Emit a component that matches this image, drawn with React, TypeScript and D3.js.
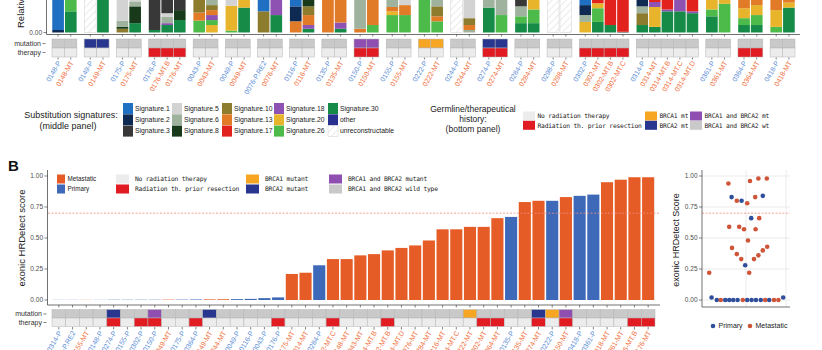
import React from 'react';
import * as d3 from 'd3';

const FONT = 'Liberation Sans, Arial, sans-serif';
const FONT_LEG = 'DejaVu Sans Mono, Liberation Mono, monospace';

// ---- panel A (bottom part visible): samples, grouped by patient
const patients = ['0148', '0149', '0175', '0176', '0043', '0049', '0076', '0116', '0135', '0150', '0155',
  '0222', '0244', '0274', '0284', '0298', '0302', '0314', '0361', '0364', '0418'];
const patientMutation = ['wt', 'BRCA2', 'wt', 'wt', 'wt', 'wt', 'wt', 'wt', 'wt', 'both', 'wt',
  'BRCA1', 'wt', 'BRCA2', 'wt', 'wt', 'wt', 'wt', 'wt', 'wt', 'wt'];
const patientRadiation = [false, false, false, true, false, false, false, false, false, true, false,
  false, false, true, false, false, true, false, false, true, false];

const topSamples = ['0148-P', '0148-MT', '0149-P', '0149-MT', '0175-P', '0175-MT', '0176-P', '0176-MT.B',
  '0176-MT', '0043-P', '0043-MT', '0049-P', '0049-MT', '0076-P.RE2', '0076-MT', '0116-P', '0116-MT',
  '0135-P', '0135-MT', '0150-P', '0150-MT', '0155-P', '0155-MT', '0222-P', '0222-MT', '0244-P',
  '0244-MT', '0274-P', '0274-MT', '0284-P', '0284-MT', '0298-P', '0298-MT', '0302-P', '0302-MT',
  '0302-MT.B', '0302-MT.C', '0314-P', '0314-MT', '0314-MT.B', '0314-MT.C', '0314-MT.D', '0361-P',
  '0361-MT', '0364-P', '0364-MT', '0418-P', '0418-MT'];

// relative contribution (%) per sample, stacked bottom-up; U = unreconstructable
const signatureMix: [string, number][][] = [
  [['2', 2], ['1', 98]],
  [['30', 17], ['26', 83]],
  [['U', 100]],
  [['30', 100]],
  [['10', 3], ['8', 1.5], ['6', 5], ['5', 90.5]],
  [['30', 7.5], ['8', 13.5], ['6', 4], ['5', 75]],
  [['30', 2], ['3', 98]],
  [['30', 6], ['18', 1.5], ['6', 5], ['5', 3], ['3', 84.5]],
  [['30', 10], ['8', 8], ['3', 82]],
  [['26', 9.5], ['13', 6.5], ['10', 84]],
  [['20', 6], ['26', 4], ['18', 4], ['13', 4], ['10', 4], ['6', 78]],
  [['26', 1.5], ['20', 20], ['5', 78.5]],
  [['30', 20], ['20', 80]],
  [['10', 17], ['1', 83]],
  [['30', 14], ['18', 86]],
  [['13', 9], ['2', 12], ['1', 79]],
  [['30', 3], ['18', 3], ['13', 8], ['10', 7], ['8', 79]],
  [['13', 100]],
  [['30', 3], ['18', 5], ['13', 92]],
  [['13', 3], ['6', 97]],
  [['26', 6], ['13', 94]],
  [['26', 14], ['20', 3], ['13', 3.5], ['6', 79.5]],
  [['26', 14], ['13', 8], ['5', 78]],
  [['26', 100]],
  [['26', 9], ['13', 4], ['10', 8], ['6', 79]],
  [['U', 100]],
  [['6', 2], ['13', 4], ['10', 5.5], ['5', 88.5]],
  [['30', 20], ['6', 80]],
  [['26', 14], ['6', 86]],
  [['30', 7.5], ['26', 5.5], ['6', 8], ['3', 79]],
  [['30', 7.5], ['26', 11], ['20', 81.5]],
  [['U', 100]],
  [['U', 100]],
  [['20', 8.5], ['6', 5.5], ['2', 8], ['1', 78]],
  [['30', 8.5], ['26', 11], ['20', 4], ['17', 76.5]],
  [['30', 6], ['17', 94]],
  [['3', 0.6], ['17', 99.4]],
  [['30', 6], ['10', 9.5], ['6', 5.5], ['2', 79]],
  [['30', 4.5], ['20', 16], ['18', 4], ['17', 75.5]],
  [['30', 17], ['18', 1.5], ['17', 81.5]],
  [['30', 17], ['18', 83]],
  [['30', 15.5], ['18', 1.5], ['17', 83]],
  [['30', 13], ['26', 5.5], ['20', 81.5]],
  [['26', 23], ['20', 77]],
  [['30', 6], ['26', 5.5], ['20', 8], ['13', 80.5]],
  [['30', 6], ['26', 8], ['20', 8], ['13', 78]],
  [['26', 4.5], ['20', 13.5], ['13', 82]],
  [['30', 20], ['20', 4], ['13', 76]],
];

const signatureKeys = ['1', '2', '3', '5', '6', '8', '10', '13', '17', '18', '20', '26', '30', 'other', 'U'];
const signatureLabels = ['Signature.1', 'Signature.2', 'Signature.3', 'Signature.5', 'Signature.6',
  'Signature.8', 'Signature.10', 'Signature.13', 'Signature.17', 'Signature.18', 'Signature.20',
  'Signature.26', 'Signature.30', 'other', 'unreconstructable'];
const signatureColors = ['#1f6fc2', '#0e2a52', '#383838', '#d3d3d3', '#9fb29d', '#183a1a', '#8d7b2e',
  '#e27b28', '#e2231d', '#8e52b3', '#e8b42c', '#4dbb4a', '#168a47', '#28318f', 'url(#hatch)'];

// ---- panel B: exonic HRDetect
const bSamples = ['0314-P', '0076-P.RE2', '0155-MT', '0148-P', '0274-P', '0155-P', '0302-P', '0150-P',
  '0049-MT', '0175-P', '0364-P', '0149-MT', '0244-MT', '0049-P', '0116-P', '0043-P', '0176-P',
  '0175-MT', '0314-MT', '0284-P', '0302-MT.C', '0148-MT', '0043-MT', '0314-MT.B', '0302-MT.B',
  '0314-MT.D', '0076-MT', '0284-MT', '0116-MT', '0314-MT.C', '0222-MT', '0302-MT', '0364-MT',
  '0135-P', '0135-MT', '0274-MT', '0222-P', '0150-MT', '0418-P', '0361-P', '0418-MT', '0361-MT',
  '0176-MT.B', '0176-MT'];
const bScores = [0.001, 0.001, 0.001, 0.001, 0.002, 0.002, 0.002, 0.002, 0.003, 0.003, 0.004, 0.005,
  0.006, 0.007, 0.009, 0.015, 0.021, 0.21, 0.22, 0.28, 0.33, 0.33, 0.36, 0.37, 0.40, 0.42, 0.44, 0.48,
  0.57, 0.57, 0.59, 0.59, 0.66, 0.67, 0.79, 0.80, 0.80, 0.83, 0.84, 0.85, 0.95, 0.97, 0.99, 0.99];
const yTicks = [0, 0.25, 0.5, 0.75, 1];
const threshold = 0.7;

// ---- side scatter
const scatterX = [0.14, 0.27, 0.37, 0.48, 0.58, 0.68, 0.79, 0.92, 1.03, 1.14, 1.25, 1.37, 1.48, 1.58,
  1.70, 1.81, 1.93, 0.08, 0.56, 0.64, 0.77, 0.89, 1.03, 1.10, 1.23, 1.31, 1.42, 1.52, 1.13, 1.33, 0.58,
  0.83, 0.95, 1.24, 1.05, 0.65, 0.77, 0.88, 0.98, 1.08, 1.20, 1.31, 1.42, 1.53];
const scatterY = [0.02, 0, 0, 0, 0, 0, 0, 0, 0, 0, 0, 0, 0, 0, 0, 0, 0.02, 0.22, 0.94, 0.83, 0.80, 0.80,
  0.78, 0.96, 0.83, 0.98, 0.84, 0.98, 0.66, 0.66, 0.59, 0.59, 0.57, 0.57, 0.48, 0.42, 0.37, 0.33, 0.28,
  0.22, 0.33, 0.36, 0.40, 0.43];
const scatterType = ['P', 'P', 'M', 'P', 'P', 'P', 'P', 'M', 'P', 'P', 'P', 'P', 'M', 'P', 'M', 'M', 'P',
  'M', 'M', 'P', 'M', 'P', 'M', 'M', 'M', 'M', 'P', 'M', 'P', 'M', 'M', 'M', 'M', 'M', 'M', 'M', 'M', 'M',
  'P', 'M', 'M', 'M', 'M', 'M'];

const MUT_COL: Record<string, string> = { wt: '#c9c9c9', BRCA1: '#f6a623', BRCA2: '#28368f', both: '#8e4fb0' };
const NO_RAD = '#ececec';
const RAD = '#e11b22';
const MET = '#e65c26';
const PRIM = '#3d69b8';
const LBL_P = '#5b8ed6';
const LBL_M = '#ef6d38';

const patientOf = (s: string) => patients.indexOf(s.slice(0, 4));
const isPrimary = (s: string) => s.indexOf('-P') >= 0;

export default function App() {
  // ---------- panel A layout (facets by patient)
  const x0 = 52, x1 = 795, gap = 7.3;
  const per = (x1 - x0 - gap * (patients.length - 1)) / topSamples.length;
  const groups = patients.map((p) => topSamples.filter((s) => s.slice(0, 4) === p));
  let cursor = x0;
  const facets = groups.map((samples, k) => {
    const start = cursor;
    const end = start + samples.length * per;
    cursor = end + gap;
    const band = d3.scaleBand<string>().domain(samples).range([start, end]).paddingInner(0.08).paddingOuter(0.02);
    const tile = d3.scaleBand<string>().domain(samples).range([start, end]);
    return { k, samples, band, tile };
  });
  const yTop = d3.scaleLinear().domain([0, 1]).range([32.5, -92]);
  const sigColor = (key: string) => signatureColors[signatureKeys.indexOf(key)];

  // ---------- panel B
  const xB = d3.scaleBand<string>().domain(bSamples).range([52, 655]);
  const yB = d3.scaleLinear().domain([0, 1]).range([300, 176]);

  // ---------- scatter
  const xS = d3.scaleLinear().domain([-0.1, 2.1]).range([702, 790]);

  const legendCols = [123, 172, 222, 274, 328];
  const legFont = { fontSize: 6.3, fontFamily: FONT_LEG, letterSpacing: -0.2 };

  return (
    <svg width={822} height={350} style={{ position: 'absolute', left: 0, top: 0, background: '#fff' }}
      fontFamily={FONT}>
      <defs>
        <pattern id="hatch" width={5} height={5} patternUnits="userSpaceOnUse" patternTransform="rotate(45)">
          <rect width={5} height={5} fill="#ffffff" />
          <line x1={0} y1={0} x2={0} y2={5} stroke="#c8c8c8" strokeWidth={0.8} />
        </pattern>
      </defs>

      {/* ================= panel A (cropped) ================= */}
      <text transform="translate(24,28) rotate(-90)" fontSize={9.5} fill="#222">Relative contribution</text>
      <line x1={46.5} x2={46.5} y1={0} y2={34.5} stroke="#333" strokeWidth={0.7} />
      <line x1={46.5} x2={800} y1={34.5} y2={34.5} stroke="#333" strokeWidth={0.7} />
      <line x1={43.5} x2={46.5} y1={32.5} y2={32.5} stroke="#333" strokeWidth={0.6} />
      <text x={42} y={32.5} dy="0.35em" textAnchor="end" fontSize={6.5} fill="#4d4d4d">0.00</text>

      {facets.map((f) => f.samples.map((s) => {
        const i = topSamples.indexOf(s);
        let cum = 0;
        const x = f.band(s)!;
        const w = f.band.bandwidth();
        return (
          <g key={s}>
            {signatureMix[i].map(([key, v], j) => {
              const y0 = yTop(cum / 100);
              cum += v;
              const y1 = yTop(cum / 100);
              return <rect key={j} x={x} y={y1} width={w} height={y0 - y1} fill={sigColor(key)}
                stroke={key === 'U' ? '#cfcfcf' : 'none'} strokeWidth={0.5} />;
            })}
            <line x1={x + w / 2} x2={x + w / 2} y1={34.5} y2={36.5} stroke="#333" strokeWidth={0.6} />
          </g>
        );
      }))}

      {/* tiles under panel A */}
      <text x={41} y={43.5} dy="0.35em" textAnchor="end" fontSize={7} fill="#333">mutation</text>
      <text x={41} y={52.5} dy="0.35em" textAnchor="end" fontSize={7} fill="#333">therapy</text>
      <line x1={42.5} x2={45.5} y1={43.5} y2={43.5} stroke="#333" strokeWidth={0.6} />
      <line x1={42.5} x2={45.5} y1={52.5} y2={52.5} stroke="#333" strokeWidth={0.6} />
      {facets.map((f) => f.samples.map((s) => {
        const p = f.k;
        const x = f.tile(s)!;
        const w = f.tile.bandwidth();
        const cx = f.band(s)! + f.band.bandwidth() / 2;
        return (
          <g key={'t' + s}>
            <rect x={x} y={39} width={w} height={9} fill={MUT_COL[patientMutation[p]]} stroke="#b5b5b5" strokeWidth={0.5} />
            <rect x={x} y={48} width={w} height={9} fill={patientRadiation[p] ? RAD : NO_RAD} stroke="#b5b5b5" strokeWidth={0.5} />
            <line x1={cx} x2={cx} y1={57.5} y2={59.5} stroke="#333" strokeWidth={0.6} />
            <text transform={`translate(${cx + 1},61.5) rotate(-60)`} textAnchor="end" dy="0.35em"
              fontSize={7} fill={isPrimary(s) ? LBL_P : LBL_M}>{s}</text>
          </g>
        );
      }))}

      {/* ================= legends ================= */}
      <text x={71} y={118} textAnchor="middle" fontSize={9} fill="#222">Substitution signatures:</text>
      <text x={68} y={129} textAnchor="middle" fontSize={9} fill="#222">(middle panel)</text>
      {signatureLabels.map((lab, i) => {
        const col = Math.floor(i / 3);
        const row = i % 3;
        const y = 103 + row * 11.3;
        return (
          <g key={lab}>
            <rect x={legendCols[col]} y={y} width={10} height={11} fill={signatureColors[i]}
              stroke={signatureKeys[i] === 'U' ? '#d0d0d0' : 'none'} strokeWidth={0.5} />
            <text x={legendCols[col] + 12} y={y + 5.5} dy="0.35em" fontSize={6.8} fill="#222">{lab}</text>
          </g>
        );
      })}

      <text x={473} y={112} textAnchor="middle" fontSize={8.5} fill="#222">Germline/therapeutical</text>
      <text x={473} y={122} textAnchor="middle" fontSize={8.5} fill="#222">history:</text>
      <text x={473} y={132} textAnchor="middle" fontSize={8.5} fill="#222">(bottom panel)</text>
      {[
        { x: 523, lab: 'No radiation therapy', c: NO_RAD },
        { x: 523, lab: 'Radiation th. prior resection', c: RAD },
        { x: 645, lab: 'BRCA1 mt', c: MUT_COL.BRCA1 },
        { x: 645, lab: 'BRCA2 mt', c: MUT_COL.BRCA2 },
        { x: 690, lab: 'BRCA1 and BRCA2 mt', c: MUT_COL.both },
        { x: 690, lab: 'BRCA1 and BRCA2 wt', c: MUT_COL.wt },
      ].map((d, i) => {
        const y = 111.5 + (i % 2) * 9.3;
        return (
          <g key={d.lab}>
            <rect x={d.x} y={y} width={12} height={9} fill={d.c} />
            <text x={d.x + 14.5} y={y + 4.5} dy="0.35em" {...legFont} fill="#222">{d.lab}</text>
          </g>
        );
      })}

      {/* ================= panel B ================= */}
      <text x={8} y={171} fontSize={15} fontWeight="bold" fill="#111">B</text>
      <text transform="translate(25,238) rotate(-90)" textAnchor="middle" fontSize={9.5} fill="#222">exonic HRDetect score</text>
      <line x1={47.5} x2={47.5} y1={170} y2={305} stroke="#333" strokeWidth={0.7} />
      <line x1={47.5} x2={660} y1={305} y2={305} stroke="#333" strokeWidth={0.7} />
      {yTicks.map((t) => (
        <g key={'yb' + t}>
          <line x1={44.5} x2={47.5} y1={yB(t)} y2={yB(t)} stroke="#333" strokeWidth={0.6} />
          <text x={43} y={yB(t)} dy="0.35em" textAnchor="end" fontSize={6.5} fill="#4d4d4d">{t.toFixed(2)}</text>
        </g>
      ))}
      {bSamples.map((s, i) => {
        const x = xB(s)!;
        const w = xB.bandwidth();
        const cx = x + w / 2;
        const p = patientOf(s);
        return (
          <g key={'b' + s}>
            <rect x={x + 0.8} y={yB(bScores[i])} width={w - 1.6} height={yB(0) - yB(bScores[i])}
              fill={isPrimary(s) ? PRIM : MET} />
            <line x1={cx} x2={cx} y1={305} y2={307.5} stroke="#333" strokeWidth={0.6} />
            <rect x={x} y={309.5} width={w} height={8.5} fill={MUT_COL[patientMutation[p]]} stroke="#b5b5b5" strokeWidth={0.5} />
            <rect x={x} y={318} width={w} height={8.5} fill={patientRadiation[p] ? RAD : NO_RAD} stroke="#b5b5b5" strokeWidth={0.5} />
            <line x1={cx} x2={cx} y1={327} y2={329.5} stroke="#333" strokeWidth={0.6} />
            <text transform={`translate(${cx + 1},331.5) rotate(-60)`} textAnchor="end" dy="0.35em"
              fontSize={7} fill={isPrimary(s) ? LBL_P : LBL_M}>{s}</text>
          </g>
        );
      })}
      <line x1={48} x2={660} y1={yB(threshold)} y2={yB(threshold)} stroke="#f08a80" strokeWidth={0.8} strokeDasharray="2,1.5" />
      <text x={42} y={314} dy="0.35em" textAnchor="end" fontSize={7} fill="#333">mutation</text>
      <text x={42} y={322.5} dy="0.35em" textAnchor="end" fontSize={7} fill="#333">therapy</text>
      <line x1={43.5} x2={46.5} y1={314} y2={314} stroke="#333" strokeWidth={0.6} />
      <line x1={43.5} x2={46.5} y1={322.5} y2={322.5} stroke="#333" strokeWidth={0.6} />

      {/* panel B legend */}
      {[
        { x: 57, w: 8, lab: 'Metastatic', c: MET },
        { x: 57, w: 8, lab: 'Primary', c: PRIM },
        { x: 116, w: 13, lab: 'No radiation therapy', c: NO_RAD },
        { x: 116, w: 13, lab: 'Radiation th. prior resection', c: RAD },
        { x: 246, w: 13, lab: 'BRCA1 mutant', c: MUT_COL.BRCA1 },
        { x: 246, w: 13, lab: 'BRCA2 mutant', c: MUT_COL.BRCA2 },
        { x: 329, w: 13, lab: 'BRCA1 and BRCA2 mutant', c: MUT_COL.both },
        { x: 329, w: 13, lab: 'BRCA1 and BRCA2 wild type', c: MUT_COL.wt },
      ].map((d, i) => {
        const y = 174.5 + (i % 2) * 10;
        const small = d.w < 10;
        return (
          <g key={'lb' + d.lab}>
            <rect x={d.x} y={y} width={d.w} height={9} fill={d.c} />
            {small
              ? <text x={d.x + d.w + 2.5} y={y + 4.5} dy="0.35em" fontSize={6.3} fill="#222">{d.lab}</text>
              : <text x={d.x + d.w + 6} y={y + 4.5} dy="0.35em" {...legFont} fill="#222">{d.lab}</text>}
          </g>
        );
      })}

      {/* ================= side scatter ================= */}
      <text transform="translate(679,240) rotate(-90)" textAnchor="middle" fontSize={9} fill="#222">exonic HRDetect Score</text>
      {yTicks.map((t) => (
        <g key={'ys' + t}>
          <line x1={702} x2={790} y1={yB(t)} y2={yB(t)} stroke="#e3e3e3" strokeWidth={0.7} />
          <line x1={699} x2={702} y1={yB(t)} y2={yB(t)} stroke="#333" strokeWidth={0.6} />
          <text x={697.5} y={yB(t)} dy="0.35em" textAnchor="end" fontSize={6.5} fill="#4d4d4d">{t.toFixed(2)}</text>
        </g>
      ))}
      {[1, 2].map((t) => (
        <line key={'xs' + t} x1={xS(t)} x2={xS(t)} y1={170} y2={307} stroke="#e3e3e3" strokeWidth={0.7} />
      ))}
      <line x1={702} x2={790} y1={yB(threshold)} y2={yB(threshold)} stroke="#f08a80" strokeWidth={0.8} strokeDasharray="2,1.5" />
      <line x1={702} x2={702} y1={170} y2={307} stroke="#333" strokeWidth={0.7} />
      <line x1={702} x2={790} y1={307} y2={307} stroke="#333" strokeWidth={0.7} />
      {scatterX.map((v, i) => (
        <circle key={'pt' + i} cx={xS(v)} cy={yB(scatterY[i])} r={2.3}
          fill={scatterType[i] === 'P' ? '#2f4f9c' : '#cf5538'} />
      ))}
      <circle cx={713} cy={326} r={2.3} fill="#2f4f9c" />
      <text x={718.5} y={326} dy="0.35em" fontSize={7} fill="#222">Primary</text>
      <circle cx={750} cy={326} r={2.3} fill="#cf5538" />
      <text x={755.5} y={326} dy="0.35em" fontSize={7} fill="#222">Metastatic</text>
    </svg>
  );
}
